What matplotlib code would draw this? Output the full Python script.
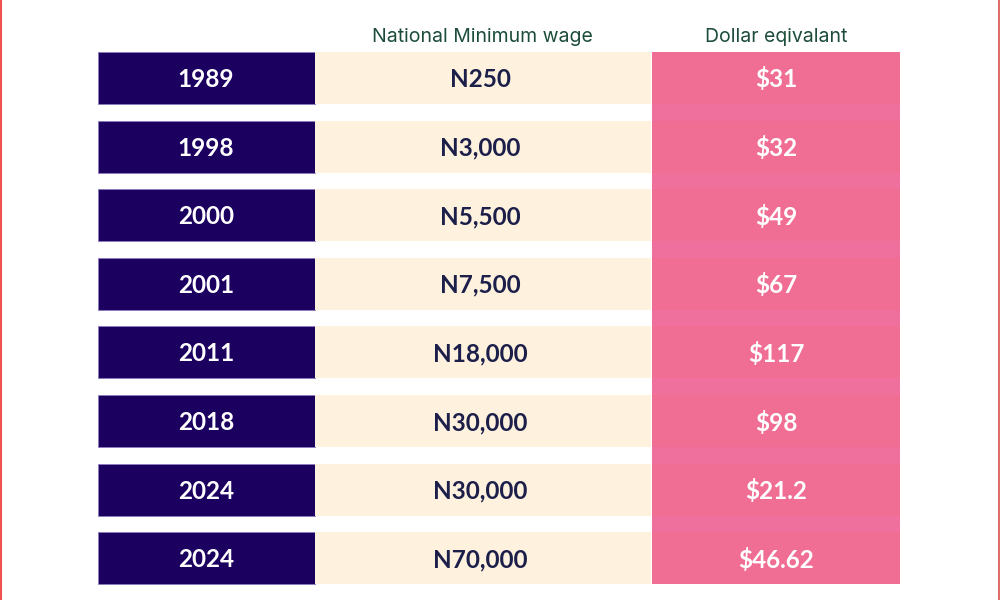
import matplotlib
matplotlib.use('Agg')
from matplotlib import pyplot as plt
from matplotlib.patches import Rectangle

# table data
years = ['1989', '1998', '2000', '2001', '2011', '2018', '2024', '2024']
wages = ['N250', 'N3,000', 'N5,500', 'N7,500', 'N18,000', 'N30,000', 'N30,000', 'N70,000']
dollars = ['$31', '$32', '$49', '$67', '$117', '$98', '$21.2', '$46.62']
headers = ['National Minimum wage', 'Dollar eqivalant']

navy = '#1b0060'
cream = '#fef1dd'
pink_row = '#f06d93'
pink_gap = '#ef6f9d'

fig = plt.figure(figsize=(10, 6), dpi=100)
ax = fig.add_axes([0, 0, 1, 1])
ax.set_xlim(0, 1000)
ax.set_ylim(600, 0)
ax.axis('off')

top = 52
step = 68.6
h = 52
n = len(years)

# continuous pink column behind the rows
ax.add_patch(Rectangle((652, top), 248, step * (n - 1) + h, color=pink_gap, lw=0))

for i in range(n):
    y = top + i * step
    ax.add_patch(Rectangle((98, y), 217, h, facecolor=navy, edgecolor='#8a7cc0', lw=0.6))
    ax.add_patch(Rectangle((315, y), 336, h, color=cream, lw=0))
    ax.add_patch(Rectangle((652, y), 248, h, color=pink_row, lw=0))
    yc = y + h / 2 + 1.5
    ax.text(206, yc, years[i], ha='center', va='center', color='white',
            fontsize=17.5, fontweight='bold', family='Lato')
    ax.text(480, yc, wages[i], ha='center', va='center', color='#1c1f4a',
            fontsize=17.5, fontweight='bold', family='Lato')
    ax.text(776, yc, dollars[i], ha='center', va='center', color='white',
            fontsize=17.5, fontweight='bold', family='Lato')

ax.text(482, 37, headers[0], ha='center', va='center', color='#1d4d3a',
        fontsize=14, family='Inter')
ax.text(776, 37, headers[1], ha='center', va='center', color='#1d4d3a',
        fontsize=14, family='Inter')

# thin red frame edges
ax.plot([0.8, 0.8], [0, 600], color='#f05050', lw=1.5)
ax.plot([998.5, 998.5], [0, 600], color='#d9534f', lw=1.2)

fig.savefig('out.png', dpi=100)
